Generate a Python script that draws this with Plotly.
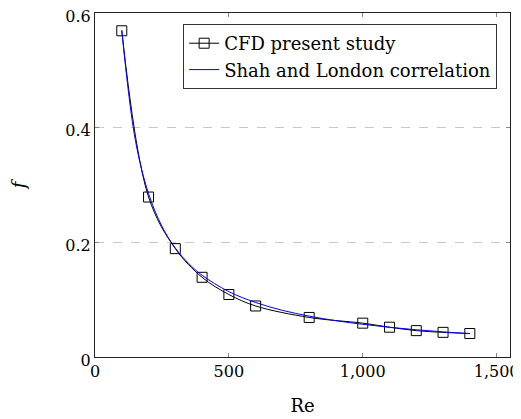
import plotly.graph_objects as go

re_cfd = [100, 200, 300, 400, 500, 600, 800, 1000, 1100, 1200, 1300, 1400]
f_cfd = [0.569, 0.279, 0.189, 0.139, 0.109, 0.089, 0.069, 0.059, 0.052, 0.046, 0.043, 0.041]

re_shah = [100, 150, 200, 250, 300, 350, 400, 500, 600, 700, 800, 900, 1000, 1100, 1200, 1300, 1400]
f_shah = [0.570, 0.380, 0.285, 0.228, 0.190, 0.163, 0.1425, 0.114, 0.095, 0.0814, 0.0713, 0.0633,
          0.057, 0.0518, 0.0475, 0.0438, 0.0407]

FONT = "DejaVu Serif, Liberation Serif, serif"

# The page body adds an 8px margin; the figure is sized to fit the window.
fig = go.Figure()
fig.add_trace(go.Scatter(
    x=re_cfd, y=f_cfd, mode="lines+markers", name="CFD present study",
    line=dict(color="black", width=1, shape="spline"),
    marker=dict(symbol="square-open", size=10, color="black", line=dict(width=1)),
))
fig.add_trace(go.Scatter(
    x=re_shah, y=f_shah, mode="lines", name="Shah and London correlation",
    line=dict(color="blue", width=1, shape="spline"),
))

fig.update_layout(
    width=513, height=411,
    margin=dict(l=87, r=11, t=5, b=62, autoexpand=False),
    paper_bgcolor="white", plot_bgcolor="white",
    font=dict(family=FONT, size=16, color="black"),
    showlegend=True,
    legend=dict(
        x=0.969, y=0.968, xanchor="right", yanchor="top",
        bordercolor="#333333", borderwidth=1, bgcolor="white",
        font=dict(family=FONT, size=18), tracegroupgap=0,
        itemwidth=30,
    ),
    xaxis=dict(
        range=[0, 1550], tickvals=[0, 500, 1000, 1500],
        ticktext=["0", "500", "1,000", "1,500"],
        showline=True, linecolor="#222", linewidth=1, mirror="ticks",
        ticks="inside", ticklen=4, tickcolor="#888",
        showgrid=False, zeroline=False, automargin=False,
        ticklabeloverflow="allow",
        title=dict(text="Re", font=dict(family=FONT, size=18), standoff=19),
    ),
    yaxis=dict(
        range=[0, 0.6], tickvals=[0, 0.2, 0.4, 0.6],
        ticktext=["0", "0.2", "0.4", "0.6"],
        showline=True, linecolor="#222", linewidth=1, mirror="ticks",
        ticks="inside", ticklen=4, tickcolor="#888",
        showgrid=True, gridcolor="#c8c8c8", griddash="dash", gridwidth=1,
        zeroline=False, automargin=False,
        ticklabeloverflow="allow", ticklabelshift=3,
        title=dict(text="<i>f</i>", font=dict(family=FONT, size=18), standoff=38),
    ),
)

fig.write_html("out.html")
